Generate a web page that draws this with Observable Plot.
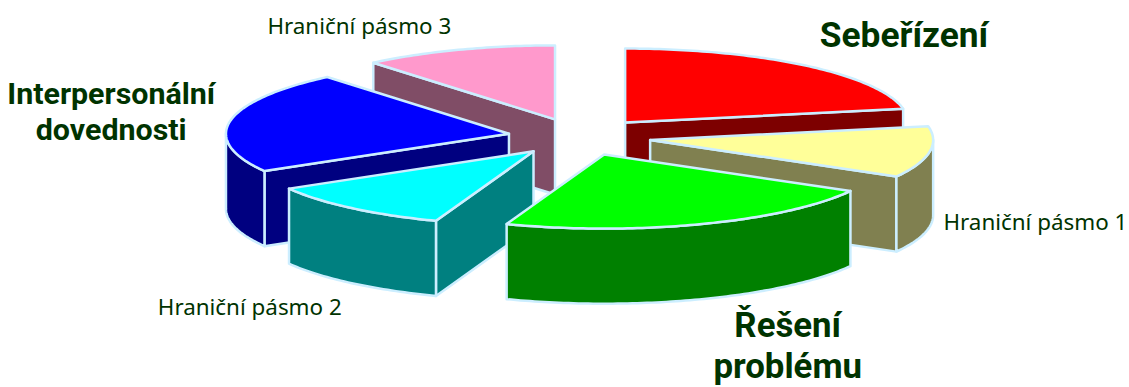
<!DOCTYPE html>
<html lang="cs">
<head>
<meta charset="utf-8">
<title>Kompetence</title>
<script src="https://cdn.jsdelivr.net/npm/d3@7"></script>
<script src="https://cdn.jsdelivr.net/npm/@observablehq/plot@0.6"></script>
<style>
  html, body { margin: 0; padding: 0; background: #fff; }
  svg { display: block; }
</style>
</head>
<body>
<div id="chart"></div>
<script>
// Slices clockwise from twelve o'clock
const categories = ["Sebeřízení", "Hraniční pásmo 1", "Řešení\nproblému", "Hraniční pásmo 2", "Interpersonální\ndovednosti", "Hraniční pásmo 3"];
const shares = [22, 11.2, 22.4, 11, 22.3, 11.1];
const topColors = ["#ff0000", "#ffff99", "#00ff00", "#00ffff", "#0000ff", "#ff99cc"];
const wallColors = ["#7d0000", "#808050", "#008000", "#008080", "#000080", "#804d66"];
const labelBold = [true, false, true, false, true, false];
const labelDx = [98.5, 106, 86, -102, -119, -99];
const labelDy = [-32, 69, 120.5, 98, -11, -25];
const labelSize = [35.3, 22.4, 34.8, 22.4, 30.4, 22.4];
const labelLeading = [1.2, 1.3, 1.176, 1.3, 1.19, 1.3];
// Painter's order: rear slices first
const drawOrder = [5, 0, 4, 1, 3, 2];

const explode = 0.253;   // pull-out, as a fraction of the radius
const depth = 1.015;     // wall height, in units of the flattened radius
const edge = "#cceeff";

const W = 1129, H = 387;
const cx = 579, cy = 136.5, rx = 283, ry = 74;
const rad = (d) => d * Math.PI / 180;

const total = d3.sum(shares);
const ends = d3.cumsum(shares).map((s) => s / total * 360);
const slices = shares.map((s, i) => {
  const a0 = i ? ends[i - 1] : 0, a1 = ends[i], mid = (a0 + a1) / 2;
  return {
    i, a0, a1, mid,
    ox: explode * Math.sin(rad(mid)),
    oy: explode * Math.cos(rad(mid))
  };
});

const rim = (s, a, drop = 0) => ({
  x: s.ox + Math.sin(rad(a)),
  y: s.oy + Math.cos(rad(a)) - drop
});
const hub = (s, drop = 0) => ({ x: s.ox, y: s.oy - drop });
const arc = (s, a0, a1, drop = 0) => {
  const n = Math.max(2, Math.ceil(Math.abs(a1 - a0)));
  return d3.range(n + 1).map((k) => rim(s, a0 + (a1 - a0) * k / n, drop));
};

const polygon = (pts, fill) => Plot.line([...pts, pts[0]], {
  x: "x", y: "y", fill, stroke: edge, strokeWidth: 2.5, strokeLinejoin: "round"
});

const marks = [];
for (const i of drawOrder) {
  const s = slices[i], wall = wallColors[i];
  // Cut faces, only where they turn towards the viewer
  if (Math.sin(rad(s.a0)) < -1e-6) {
    marks.push(polygon([hub(s), rim(s, s.a0), rim(s, s.a0, depth), hub(s, depth)], wall));
  }
  if (Math.sin(rad(s.a1)) > 1e-6) {
    marks.push(polygon([hub(s), rim(s, s.a1), rim(s, s.a1, depth), hub(s, depth)], wall));
  }
  // Outer curved wall on the front half of the rim
  const f0 = Math.max(s.a0, 90), f1 = Math.min(s.a1, 270);
  if (f1 > f0) {
    marks.push(polygon([...arc(s, f0, f1), ...arc(s, f1, f0, depth)], wall));
  }
  // Top face
  marks.push(polygon([hub(s), ...arc(s, s.a0, s.a1)], topColors[i]));
}

for (const s of slices) {
  const bold = labelBold[s.i];
  marks.push(Plot.text([{ ...rim(s, s.mid), text: categories[s.i] }], {
    x: "x", y: "y", text: "text",
    dx: labelDx[s.i], dy: labelDy[s.i],
    fill: "#003300",
    fontFamily: bold ? "Roboto, sans-serif" : "'Noto Sans', sans-serif",
    fontWeight: bold ? 700 : 400,
    fontSize: labelSize[s.i],
    lineHeight: labelLeading[s.i],
    textAnchor: "middle"
  }));
}

const chart = Plot.plot({
  width: W, height: H,
  marginTop: 0, marginRight: 0, marginBottom: 0, marginLeft: 0,
  x: { domain: [-cx / rx, (W - cx) / rx], range: [0, W], axis: null },
  y: { domain: [cy / ry, (cy - H) / ry], range: [0, H], axis: null },
  style: { background: "#fff" },
  marks
});
document.getElementById("chart").append(chart);
</script>
</body>
</html>
